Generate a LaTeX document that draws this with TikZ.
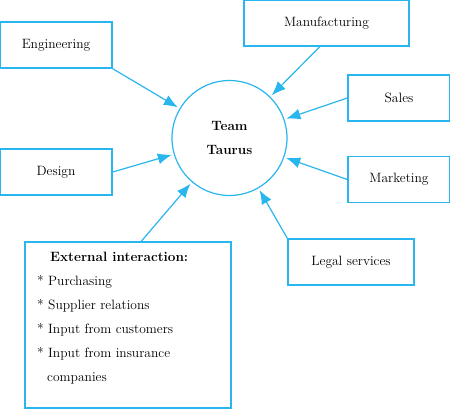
\documentclass[tikz,border=0pt]{standalone}
\usetikzlibrary{arrows.meta}
\definecolor{taurusblue}{RGB}{41,182,238}
\begin{document}
\begin{tikzpicture}
  [x=1pt,y=-1pt,every node/.style={font=\fontsize{13.5}{24}\selectfont,text=black},
   unit/.style={draw=taurusblue,line width=1.4pt,minimum height=46pt,inner sep=0pt},
   hub/.style={circle,draw=taurusblue,line width=1.2pt,minimum size=115pt,align=center,font=\fontsize{13.5}{24}\selectfont\bfseries},
   link/.style={draw=taurusblue,line width=1.2pt,-{Latex[length=14pt,width=11pt]},shorten >=2pt}]
  \useasboundingbox (0,0) rectangle (450,409);
  \node[hub] (team) at (229.5,138) {Team\\Taurus};
  \node[unit,minimum width=112pt] (eng) at (56,45) {Engineering};
  \node[unit,minimum width=112pt] (des) at (56,172) {Design};
  \node[unit,minimum width=165pt] (man) at (326.5,23) {Manufacturing};
  \node[unit,minimum width=102pt] (sal) at (399,98) {Sales};
  \node[unit,minimum width=102pt] (mkt) at (399,179.5) {Marketing};
  \node[unit,minimum width=126pt] (leg) at (351,262) {Legal services};
  \node[unit,minimum width=206pt,minimum height=166pt] (ext) at (128,325) {};
  \node[anchor=north west,align=left,inner sep=0pt] (extlist) at (37,252)
    {\hspace{13pt}\textbf{External interaction:}\\
     * Purchasing\\
     * Supplier relations\\
     * Input from customers\\
     * Input from insurance\\
     \hspace{10pt}companies};
  \foreach \from/\to in {eng.south east/team,des.east/team,man.254/team,sal.west/team,
                         mkt.west/team,leg.north west/team,ext.81/team}
    \draw[link] (\from) -- (\to);

\end{tikzpicture}
\end{document}
